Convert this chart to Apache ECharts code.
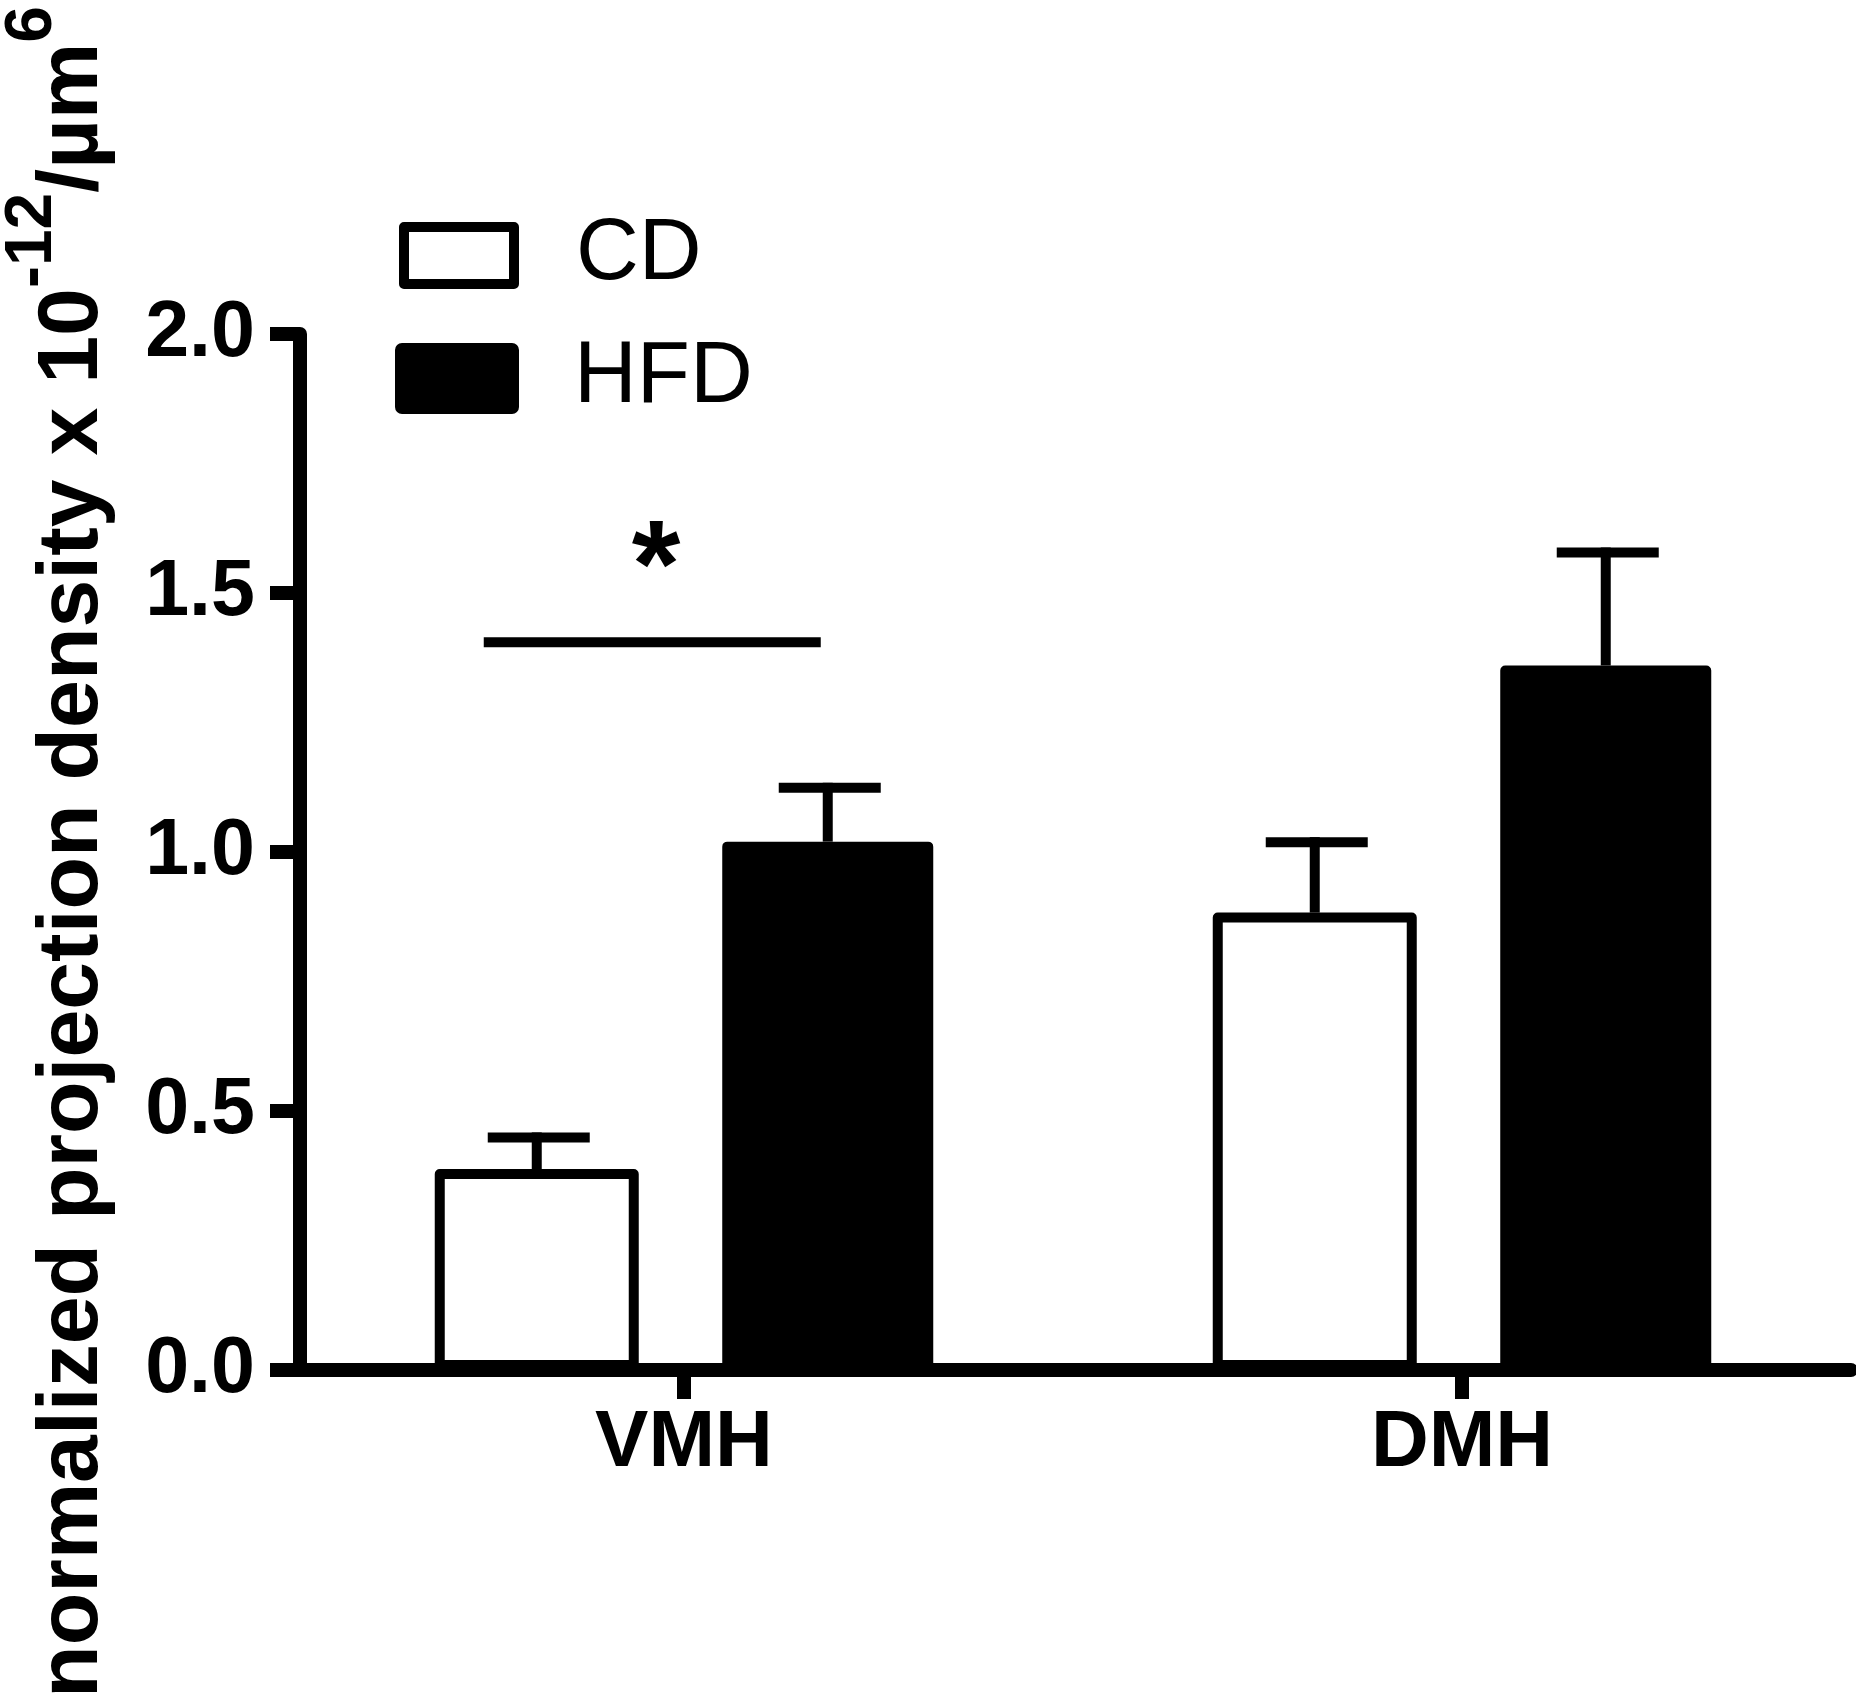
<!DOCTYPE html>
<html><head><meta charset="utf-8">
<script src="https://cdn.jsdelivr.net/npm/echarts@6/dist/echarts.min.js"></script>
<style>html,body{margin:0;padding:0;background:#fff}#c{width:1856px;height:1695px}</style>
</head><body><div id="c"></div>
<script>
// ---- data ----
const categories = ['VMH', 'DMH'];
const seriesNames = ['CD', 'HFD'];
const cdMean = [0.388, 0.883];
const cdUpper = [0.449, 1.019];
const hfdMean = [1.020, 1.360];
const hfdUpper = [1.124, 1.578];
const yTickValues = [0.0, 0.5, 1.0, 1.5, 2.0];
const sigCategory = 0;
const sigValue = 1.405;
const sigLabel = '*';
const yTitleMain = 'normalized projection density x 10';
const yTitleExp = '-12';
const yTitleUnit = '/\u00b5m';
const yTitleUnitExp = '6';

// ---- layout / style ----
const FONT = '"Liberation Sans", Arial, Helvetica, sans-serif';
const cdW = 204, hfdW = 211, gapPct = 0.4093;
const sumW = cdW * (1 + gapPct) + hfdW;
const cdOff = -sumW / 2 + cdW / 2;
const hfdOff = -sumW / 2 + cdW * (1 + gapPct) + hfdW / 2;
const LW = 10;
const AW = 14;

const chart = echarts.init(document.getElementById('c'), null, {renderer: 'canvas'});

function errRender(offset) {
  return function (params, api) {
    const c = api.value(0);
    const x = api.coord([c, 0])[0] + offset;
    const yb = api.coord([c, api.value(1)])[1];
    const yt = api.coord([c, api.value(2)])[1];
    const st = {stroke: '#000', lineWidth: LW, lineCap: 'butt'};
    return {type: 'group', children: [
      {type: 'line', shape: {x1: x, y1: yb, x2: x, y2: yt - LW / 2}, style: st},
      {type: 'line', shape: {x1: x - 49, y1: yt, x2: x + 53, y2: yt}, style: st}
    ]};
  };
}

function legendBlock(name, left, top, style) {
  return {
    orient: 'vertical', left: left, top: top, padding: 0,
    itemWidth: 110, itemHeight: 57,
    selectedMode: false, icon: 'rect',
    textStyle: {fontFamily: FONT, fontSize: 87, color: '#000', lineHeight: 57, padding: [0, 0, 0, 57]},
    data: [{name: name, itemStyle: style}]
  };
}

const option = {
  backgroundColor: '#fff',
  animation: false,
  textStyle: {fontFamily: FONT},
  grid: {left: 295, right: 5, top: 334, bottom: 325, containLabel: false, outerBoundsMode: 'none'},
  legend: [
    legendBlock(seriesNames[0], 399, 212, {color: '#fff', borderColor: '#000', borderWidth: LW, borderJoin: 'round'}),
    legendBlock(seriesNames[1], 395, 335, {color: '#000', borderColor: '#000', borderWidth: 14, borderJoin: 'round'})
  ],
  xAxis: {
    type: 'category', data: categories,
    axisLine: {show: true, lineStyle: {color: '#000', width: AW}},
    axisTick: {show: true, alignWithLabel: true, length: 29, lineStyle: {color: '#000', width: AW}},
    axisLabel: {color: '#000', fontFamily: FONT, fontWeight: 'bold', fontSize: 80, margin: 34},
    splitLine: {show: false}
  },
  yAxis: {
    type: 'value', min: 0, max: 2, interval: 0.5, offset: -5,
    axisLine: {show: true, lineStyle: {color: '#000', width: AW}},
    axisTick: {show: true, length: 30, lineStyle: {color: '#000', width: AW}},
    axisLabel: {color: '#000', fontFamily: FONT, fontWeight: 'bold', fontSize: 79, margin: 45,
      formatter: v => yTickValues.indexOf(v) >= 0 ? v.toFixed(1) : ''},
    splitLine: {show: false},
    name: '{m|' + yTitleMain + '}{s|' + yTitleExp + '}{m|' + yTitleUnit + '}{s|' + yTitleUnitExp + '}',
    nameLocation: 'middle', nameGap: 154,
    nameTextStyle: {
      rich: {
        m: {fontFamily: FONT, fontWeight: 'bold', fontSize: 86, color: '#000', lineHeight: 146, verticalAlign: 'middle'},
        s: {fontFamily: FONT, fontWeight: 'bold', fontSize: 66, color: '#000', lineHeight: 46, verticalAlign: 'top'}
      }
    }
  },
  series: [
    {name: seriesNames[0], type: 'bar', data: cdMean, barWidth: cdW, barGap: (gapPct * 100) + '%',
      itemStyle: {color: '#fff', borderColor: '#000', borderWidth: LW, borderJoin: 'round'}, z: 2},
    {name: seriesNames[1], type: 'bar', data: hfdMean, barWidth: hfdW, barGap: (gapPct * 100) + '%',
      itemStyle: {color: '#000', borderColor: '#000', borderWidth: LW, borderJoin: 'round'}, z: 2},
    {type: 'custom', name: 'cdErr', data: categories.map((c, i) => [i, cdMean[i], cdUpper[i]]),
      renderItem: errRender(cdOff), z: 3, silent: true},
    {type: 'custom', name: 'hfdErr', data: categories.map((c, i) => [i, hfdMean[i], hfdUpper[i]]),
      renderItem: errRender(hfdOff), z: 3, silent: true},
    {type: 'custom', name: 'sig', data: [[sigCategory, sigValue]], z: 3, silent: true,
      renderItem: function (params, api) {
        const c = api.value(0);
        const xc = api.coord([c, 0])[0];
        const y = api.coord([c, api.value(1)])[1];
        const x1 = xc + cdOff - 53, x2 = xc + hfdOff - 7;
        return {type: 'group', children: [
          {type: 'line', shape: {x1: x1, y1: y, x2: x2, y2: y}, style: {stroke: '#000', lineWidth: LW}},
          {type: 'text', x: xc - 28, y: y - 70, style: {text: sigLabel, fontFamily: FONT, fontWeight: 'bold', fontSize: 125,
            fill: '#000', align: 'center', verticalAlign: 'middle'}}
        ]};
      }}
  ]
};
chart.setOption(option);
</script></body></html>
